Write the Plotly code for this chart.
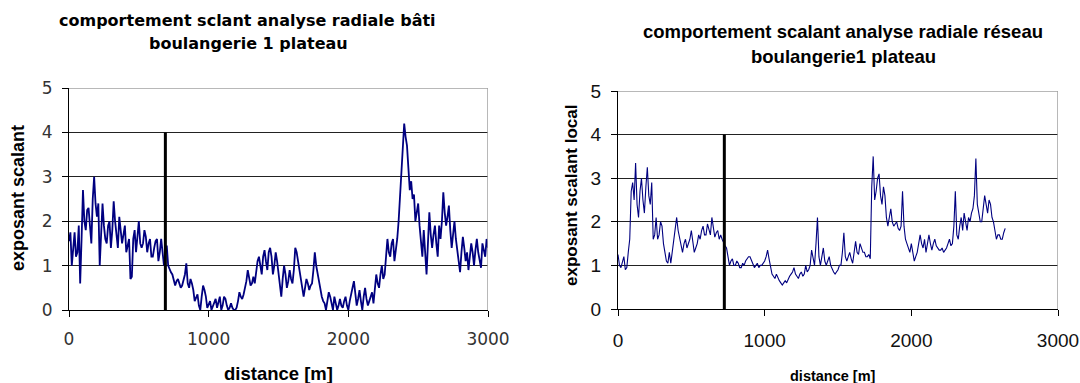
import plotly.graph_objects as go

# ---------------- data ----------------
step_m = 10
bati_values = [
    1.55, 1.75, 1.0, 1.4, 1.75, 1.2, 1.3, 1.9, 0.6, 1.6, 2.7, 2.0, 1.8, 2.25, 2.3, 1.9, 1.5, 2.5, 3.0, 2.4,
    2.1, 2.4, 1.0, 1.7, 2.4, 1.9, 1.6, 1.5, 1.9, 2.0, 1.4, 1.8, 2.45, 2.0, 1.7, 1.4, 2.1, 1.8, 1.5, 1.7,
    1.9, 1.3, 1.5, 1.6, 0.7, 0.75, 1.6, 1.8, 1.3, 1.7, 2.0, 1.5, 1.4, 1.5, 1.8, 1.65, 1.3, 1.5, 1.6, 1.2,
    1.2, 1.4, 1.55, 1.6, 1.1, 1.3, 1.6, 1.3, 1.0, 1.3, 1.45, 1.0, 0.9, 0.85, 0.8, 0.7, 0.55, 0.65, 0.7, 0.6,
    0.5, 0.55, 0.65, 0.8, 1.05, 0.6, 0.5, 0.7, 0.6, 0.45, 0.2, 0.3, 0.35, 0.1, 0.0, 0.3, 0.55, 0.45, 0.3, 0.05,
    0.15, 0.2, 0.0, 0.1, 0.2, 0.25, 0.05, 0.15, 0.3, 0.0, 0.1, 0.3, 0.25, 0.1, 0.0, 0.05, 0.15, 0.05, 0.0, 0.0,
    0.05, 0.2, 0.4, 0.3, 0.25, 0.35, 0.5, 0.65, 0.9, 0.7, 0.55, 0.6, 0.75, 0.6, 0.9, 1.1, 1.2, 1.0, 0.8, 1.2,
    1.35, 1.1, 0.9, 1.3, 1.4, 1.2, 0.8, 1.0, 1.3, 1.1, 0.8, 0.6, 0.3, 0.7, 1.0, 0.8, 0.5, 0.65, 0.9, 0.7,
    0.6, 0.9, 1.4, 1.3, 1.1, 0.8, 0.6, 0.4, 0.3, 0.5, 0.7, 0.6, 0.45, 0.55, 0.6, 0.9, 1.3, 1.0, 0.8, 0.6,
    0.4, 0.3, 0.2, 0.15, 0.0, 0.2, 0.4, 0.3, 0.1, 0.0, 0.3, 0.15, 0.0, 0.1, 0.25, 0.1, 0.05, 0.2, 0.3, 0.1,
    0.0, 0.2, 0.4, 0.5, 0.65, 0.3, 0.1, 0.25, 0.45, 0.2, 0.0, 0.3, 0.5, 0.25, 0.1, 0.2, 0.3, 0.4, 0.15, 0.5,
    0.8, 0.6, 0.5, 0.8, 1.0, 0.7, 0.8, 1.2, 1.6, 1.3, 1.2, 1.5, 1.6, 1.1, 1.3, 1.6, 2.0, 2.6, 3.3, 3.8,
    4.2, 3.9, 3.7, 3.2, 2.7, 2.9, 2.5, 2.6, 2.0, 2.2, 2.4, 1.9, 1.5, 1.2, 1.8, 1.3, 0.8, 1.5, 2.2, 1.7,
    1.4, 1.7, 1.9, 1.5, 1.2, 1.9, 1.6, 2.0, 2.65, 2.2, 1.9, 2.1, 2.35, 1.8, 1.4, 1.7, 2.0, 1.6, 1.3, 1.0,
    0.85, 1.3, 1.65, 1.4, 1.1, 1.3, 0.9, 1.2, 1.5, 1.3, 1.0, 1.35, 1.6, 1.3, 1.1, 0.95, 1.5, 1.3, 1.2, 1.6,
    1.4,
]
reseau_values = [
    1.25, 1.0, 0.95, 1.1, 1.2, 0.9, 0.95, 1.3, 1.6, 2.7, 2.9, 2.5, 3.35, 2.4, 2.1, 2.7, 3.0, 2.5, 2.2, 2.8,
    3.25, 2.6, 2.4, 2.9, 1.6, 1.7, 2.1, 1.6, 1.7, 2.0, 1.9, 1.5, 1.3, 1.1, 1.05, 1.3, 1.05, 1.3, 1.6, 1.9,
    2.1, 1.8, 1.6, 1.4, 1.3, 1.5, 1.6, 1.4, 1.5, 1.6, 1.8, 1.6, 1.3, 1.4, 1.5, 1.7, 1.6, 1.8, 1.9, 1.7,
    1.7, 1.95, 1.85, 1.7, 2.1, 1.8, 1.65, 1.75, 1.8, 1.6, 1.7, 1.6, 1.5, 1.45, 1.4, 1.2, 1.0, 1.1, 1.15, 1.0,
    1.0, 1.1, 1.05, 0.95, 0.95, 1.05, 1.0, 1.1, 1.15, 1.2, 1.2, 1.1, 1.0, 0.95, 1.0, 1.05, 0.95, 1.0, 1.0, 1.05,
    1.1, 1.2, 1.35, 1.15, 1.0, 0.8, 0.75, 0.7, 0.8, 0.7, 0.65, 0.6, 0.55, 0.6, 0.65, 0.6, 0.7, 0.75, 0.8, 0.85,
    0.95, 0.8, 0.75, 0.7, 0.8, 0.85, 0.75, 0.8, 1.0, 0.85, 0.9, 1.0, 1.35, 1.2, 1.0, 1.5, 2.1, 1.2, 1.0, 1.2,
    1.4, 1.1, 1.0, 1.1, 1.2, 1.0, 0.9, 0.85, 0.8, 0.85, 0.9, 1.0, 1.0, 1.3, 1.75, 1.2, 1.1, 1.2, 1.3, 1.15,
    1.05, 1.3, 1.55, 1.3, 1.25, 1.5, 1.4, 1.3, 1.3, 1.2, 1.2, 1.25, 1.15, 2.8, 3.5, 2.5, 2.7, 3.0, 3.1, 2.6,
    2.4, 2.8, 2.6, 2.1, 1.9, 2.1, 2.3, 2.0, 1.9, 1.95, 2.0, 1.85, 1.8, 1.9, 2.7, 1.9, 1.6, 1.5, 1.4, 1.3,
    1.5, 1.3, 1.1, 1.2, 1.3, 1.5, 1.7, 1.5, 1.4, 1.6, 1.3, 1.5, 1.7, 1.5, 1.35, 1.5, 1.6, 1.45, 1.4, 1.35,
    1.35, 1.4, 1.3, 1.35, 1.4, 1.5, 1.6, 1.45, 1.5, 1.9, 2.7, 1.7, 1.6, 1.9, 2.1, 1.8, 2.2, 2.0, 1.8, 2.1,
    2.0, 2.2, 2.3, 2.6, 3.45, 2.4, 2.2, 2.0, 2.0, 2.3, 2.6, 2.4, 2.2, 2.5, 2.4, 2.1, 2.0, 1.8, 1.6, 1.7,
    1.7, 1.6, 1.6, 1.75, 1.85,
]
bati_dist = [i * step_m for i in range(len(bati_values))]
reseau_dist = [i * step_m for i in range(len(reseau_values))]

plateau_limit = [690, 725]      # vertical marker (m) for each chart
plateau_top = 4
x_ticks = [0, 1000, 2000, 3000]
y_ticks = [0, 1, 2, 3, 4, 5]

W, H = 1080, 383
NAVY = "#000080"

def px(x):
    return x / W

def py(y):
    return 1 - y / H

fig = go.Figure()

fig.add_trace(go.Scatter(x=bati_dist, y=bati_values, mode="lines",
                         line=dict(color=NAVY, width=1.8), xaxis="x", yaxis="y",
                         showlegend=False, hoverinfo="skip"))
fig.add_trace(go.Scatter(x=[plateau_limit[0]] * 2, y=[0, plateau_top], mode="lines",
                         line=dict(color="black", width=3), xaxis="x", yaxis="y",
                         showlegend=False, hoverinfo="skip"))
fig.add_trace(go.Scatter(x=reseau_dist, y=reseau_values, mode="lines",
                         line=dict(color=NAVY, width=1.1), xaxis="x2", yaxis="y2",
                         showlegend=False, hoverinfo="skip"))
fig.add_trace(go.Scatter(x=[plateau_limit[1]] * 2, y=[0, plateau_top], mode="lines",
                         line=dict(color="black", width=3), xaxis="x2", yaxis="y2",
                         showlegend=False, hoverinfo="skip"))

def xaxis(domain, anchor, font):
    return dict(domain=domain, anchor=anchor, range=[0, 3000], tickvals=x_ticks,
                ticks="outside", ticklen=6, tickcolor="black", showgrid=False,
                zeroline=False, showline=True, linecolor="black", linewidth=1,
                tickfont=font, ticklabelstandoff=8, fixedrange=True, automargin=False)

def yaxis(domain, anchor, font):
    return dict(domain=domain, anchor=anchor, range=[0, 5], tickvals=y_ticks,
                ticks="outside", ticklen=6, tickcolor="black", showgrid=True,
                gridcolor="#222222", gridwidth=1.4, zeroline=False, showline=True,
                linecolor="black", linewidth=1, tickfont=font,
                ticklabelstandoff=6, fixedrange=True, automargin=False)

left_tick_font = dict(family="DejaVu Sans", size=17, color="#333333")
right_tick_font = dict(family="Liberation Sans, Arial", size=19, color="#111111")

fig.update_layout(
    width=W, height=H, margin=dict(l=0, r=0, t=0, b=0, autoexpand=False),
    paper_bgcolor="white", plot_bgcolor="white",
    xaxis=xaxis([px(69), px(488)], "y", left_tick_font),
    yaxis=yaxis([py(310), py(88)], "x", left_tick_font),
    xaxis2=xaxis([px(618), px(1058)], "y2", right_tick_font),
    yaxis2=yaxis([py(309), py(91)], "x2", right_tick_font),
)

# gray top/right borders of each plot area
for xr, yr in (("x", "y"), ("x2", "y2")):
    fig.add_shape(type="line", xref=xr, yref=yr, x0=0, x1=3000, y0=5, y1=5,
                  line=dict(color="#a0a0a0", width=1.5))
    fig.add_shape(type="line", xref=xr, yref=yr, x0=3000, x1=3000, y0=0, y1=5,
                  line=dict(color="#a0a0a0", width=1.5))

def note(text, x, y, size, family, angle=0):
    fig.add_annotation(text=text, x=px(x), y=py(y), xref="paper", yref="paper",
                       xanchor="center", yanchor="middle", showarrow=False,
                       textangle=angle, font=dict(size=size, family=family, color="black"))

BOLD_L = "DejaVu Sans"
BOLD_R = "Liberation Sans, Arial"
note("<b>comportement sclant analyse radiale bâti</b>", 247, 20, 16, BOLD_L)
note("<b>boulangerie 1 plateau</b>", 248, 43, 16, BOLD_L)
note("<b>comportement scalant analyse radiale réseau</b>", 843, 32, 18.5, BOLD_R)
note("<b>boulangerie1 plateau</b>", 843, 56, 18.5, BOLD_R)
note("<b>exposant scalant</b>", 18, 198, 18, BOLD_R, -90)
note("<b>exposant scalant local</b>", 571, 196, 17, BOLD_R, -90)
note("<b>distance [m]</b>", 278, 373, 18.5, BOLD_R)
note("<b>distance [m]</b>", 833, 376, 14.5, BOLD_R)

fig.write_html("out.html")
